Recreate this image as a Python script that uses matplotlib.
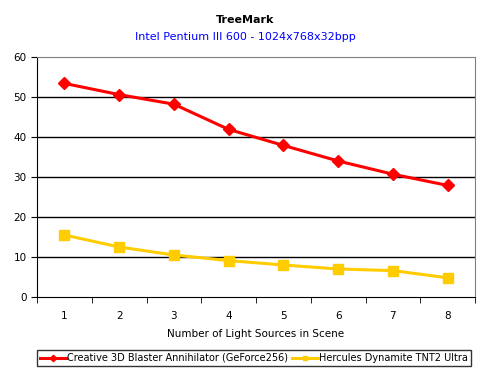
import numpy as np
import matplotlib.pyplot as plt

lights = [1, 2, 3, 4, 5, 6, 7, 8]
geforce = [53.4, 50.6, 48.2, 41.9, 37.9, 34.0, 30.7, 27.9]
tnt2 = [15.5, 12.5, 10.5, 9.1, 8.0, 7.0, 6.6, 4.8]
labels = ["Creative 3D Blaster Annihilator (GeForce256)", "Hercules Dynamite TNT2 Ultra"]

fig = plt.figure(figsize=(4.9, 3.77), dpi=100)
ax = fig.add_axes([37 / 490, 1 - 297 / 377, 438 / 490, 240 / 377])

ax.plot(lights, geforce, color="#FF0000", lw=2.2, marker="D", ms=6.5, label=labels[0])
ax.plot(lights, tnt2, color="#FFCC00", lw=2.2, marker="s", ms=7, label=labels[1])

ax.set_xlim(0.5, 8.5)
ax.set_ylim(0, 60)
ax.set_yticks(np.arange(0, 61, 10))
ax.set_xticks(lights)
ax.set_xticks(np.arange(0.5, 8.6, 1), minor=True)
ax.tick_params(axis="x", which="major", length=0, pad=10, labelsize=7.5)
ax.tick_params(axis="x", which="minor", length=4, direction="out")
ax.tick_params(axis="y", length=4, direction="out", labelsize=7.5)
for y in range(10, 60, 10):
    ax.axhline(y, color="black", lw=1, zorder=0)

for s in ["top", "right"]:
    ax.spines[s].set_color("#808080")
ax.spines["left"].set_color("black")
ax.spines["bottom"].set_color("black")

ax.set_xlabel("Number of Light Sources in Scene", fontsize=7.5, labelpad=6)
fig.text(0.5, 1 - 20 / 377, "TreeMark", ha="center", va="center", fontsize=8, fontweight="bold")
fig.text(0.5, 1 - 37 / 377, "Intel Pentium III 600 - 1024x768x32bpp", ha="center", va="center",
         fontsize=8, color="#0000FF")

leg = fig.legend(loc="center", bbox_to_anchor=(254 / 490, 1 - 358 / 377), ncol=2, fontsize=7.0,
                 frameon=True, fancybox=False, edgecolor="black", handlelength=2.6,
                 handletextpad=0.1, columnspacing=0.5, borderpad=0.3, markerscale=0.5)
leg.get_frame().set_linewidth(1)

fig.savefig("out.png", dpi=100)
